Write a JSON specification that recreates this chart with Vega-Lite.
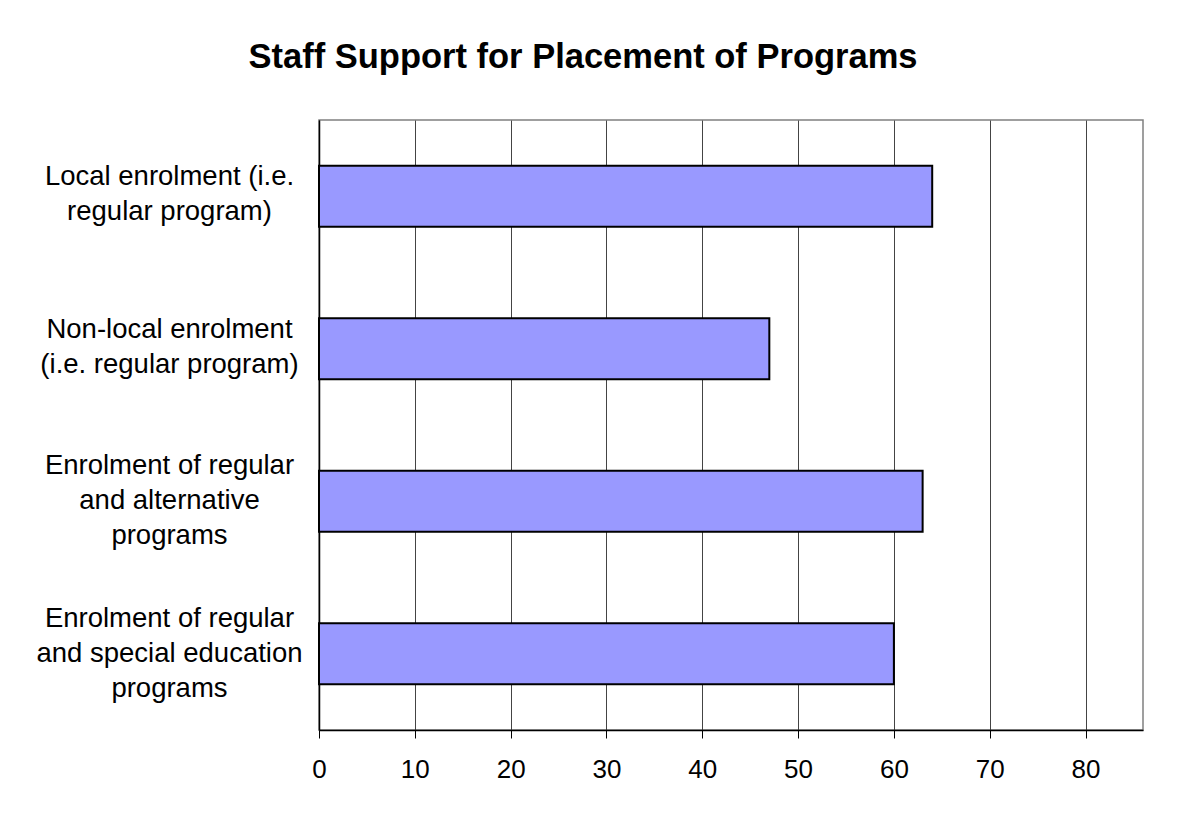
{
  "$schema": "https://vega.github.io/schema/vega-lite/v6.json",
  "autosize": "none",
  "width": 824,
  "height": 610,
  "padding": {"left": 319, "top": 120, "right": 34, "bottom": 83},
  "background": "white",
  "title": {
    "text": "Staff Support for Placement of Programs",
    "font": "Liberation Sans",
    "fontSize": 34.5,
    "fontWeight": "bold",
    "color": "black",
    "anchor": "middle",
    "dx": -148,
    "baseline": "alphabetic",
    "offset": 18
  },
  "data": {
    "values": [
      {"program": "Local enrolment (i.e. regular program)", "support": 64},
      {"program": "Non-local enrolment (i.e. regular program)", "support": 47},
      {"program": "Enrolment of regular and alternative programs", "support": 63},
      {"program": "Enrolment of regular and special education programs", "support": 60}
    ]
  },
  "mark": {"type": "bar", "fill": "#9999FF", "stroke": "black", "strokeWidth": 2},
  "encoding": {
    "y": {
      "field": "program",
      "type": "nominal",
      "sort": null,
      "scale": {"paddingInner": 0.6, "paddingOuter": 0.3},
      "axis": {
        "title": null,
        "ticks": false,
        "domainColor": "black",
        "domainWidth": 1.5,
        "labelFont": "Liberation Sans",
        "labelFontSize": 27.5,
        "labelColor": "black",
        "labelAlign": "center",
        "labelBaseline": "middle",
        "labelPadding": 150,
        "labelLineHeight": 35,
        "labelLimit": 400,
        "labelOffset": {"condition": {"test": "indexof(datum.value, 'Enrolment of regular') == 0", "value": -35}, "value": -19},
        "labelExpr": "datum.value == 'Local enrolment (i.e. regular program)' ? ['Local enrolment (i.e.', 'regular program)'] : datum.value == 'Non-local enrolment (i.e. regular program)' ? ['Non-local enrolment', '(i.e. regular program)'] : datum.value == 'Enrolment of regular and alternative programs' ? ['Enrolment of regular', 'and alternative', 'programs'] : ['Enrolment of regular', 'and special education', 'programs']"
      }
    },
    "x": {
      "field": "support",
      "type": "quantitative",
      "scale": {"domain": [0, 86], "nice": false},
      "axis": {
        "title": null,
        "values": [0, 10, 20, 30, 40, 50, 60, 70, 80],
        "grid": true,
        "gridColor": "#444444",
        "gridWidth": 1,
        "domainColor": "black",
        "domainWidth": 1.5,
        "tickColor": "black",
        "tickSize": 8,
        "labelFlush": false,
        "labelFont": "Liberation Sans",
        "labelFontSize": 26,
        "labelColor": "black",
        "labelPadding": 18
      }
    }
  },
  "config": {
    "view": {"stroke": "#808080", "strokeWidth": 1.5}
  }
}
